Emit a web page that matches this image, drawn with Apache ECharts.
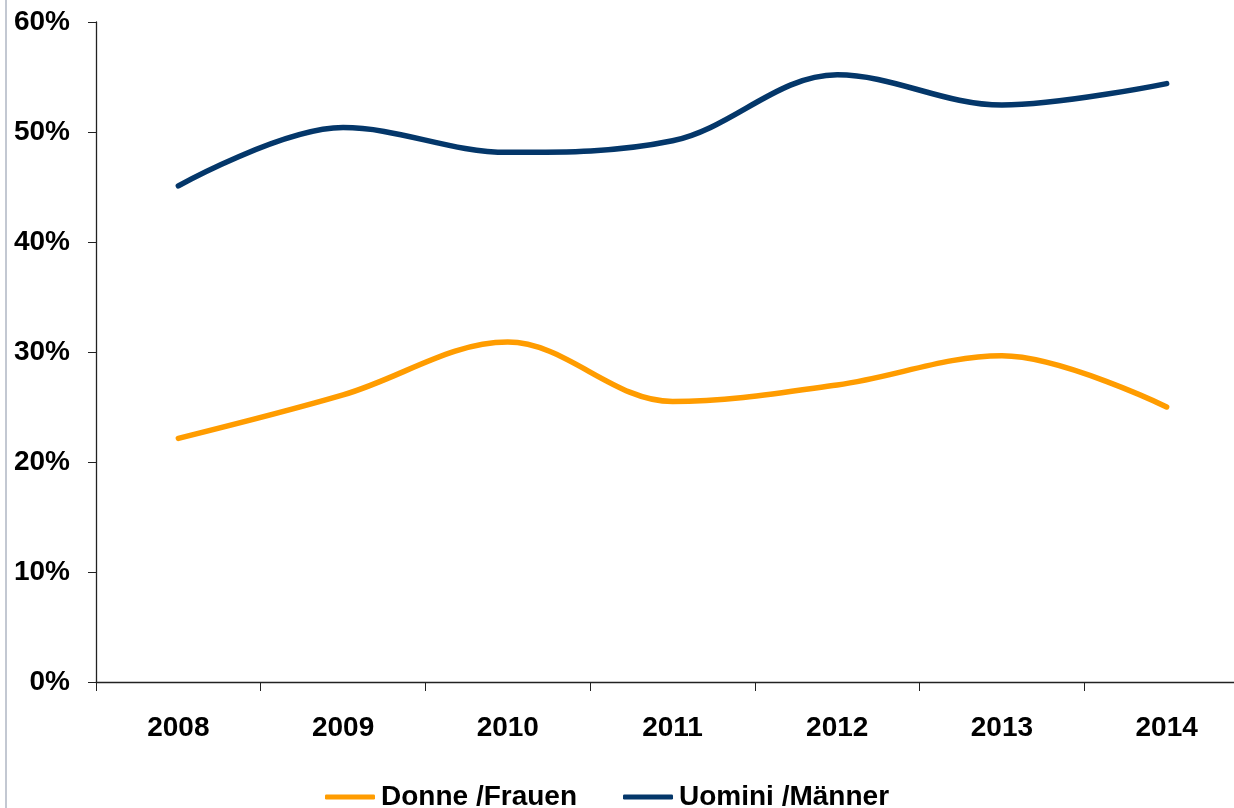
<!DOCTYPE html>
<html>
<head>
<meta charset="utf-8">
<script src="https://cdn.jsdelivr.net/npm/echarts@6/dist/echarts.min.js"></script>
<style>
    html, body { margin: 0; padding: 0; background: #fff; overflow: hidden; }
    #chart { width: 1234px; height: 808px; position: relative; }
    .edge { position: absolute; left: 5px; top: 0; width: 2px; height: 808px; background: #c3c8d2; z-index: 5; }
</style>
</head>
<body>
<div class="edge"></div>
<div id="chart"></div>
<script>
    const years = ['2008', '2009', '2010', '2011', '2012', '2013', '2014'];
    const donne = [22.15, 26.1, 30.9, 25.5, 27.0, 29.65, 25.0];
    const uomini = [45.1, 50.4, 48.15, 49.2, 55.2, 52.45, 54.4];
    const yTicks = [0, 10, 20, 30, 40, 50, 60];

    const orange = '#ff9c00';
    const navy = '#04376a';
    const font = 'Liberation Sans, Arial, sans-serif';

    const chart = echarts.init(document.getElementById('chart'));
    chart.setOption({
        animation: false,
        // the plot runs past the right edge of the picture
        grid: { left: 96, top: 22, height: 660, width: 1153, outerBoundsMode: 'none', containLabel: false },
        xAxis: {
            type: 'category',
            data: years,
            boundaryGap: true,
            axisLine: { lineStyle: { color: '#222', width: 1.3 } },
            axisTick: { show: true, length: 9, lineStyle: { color: '#222' } },
            axisLabel: { color: '#000', fontFamily: font, fontWeight: 'bold', fontSize: 28, margin: 32 }
        },
        yAxis: {
            type: 'value',
            min: yTicks[0],
            max: yTicks[yTicks.length - 1],
            interval: 10,
            axisLine: { show: true, lineStyle: { color: '#222', width: 1.3 } },
            axisTick: { show: true, length: 8, lineStyle: { color: '#222' } },
            splitLine: { show: false },
            axisLabel: {
                color: '#000', fontFamily: font, fontWeight: 'bold', fontSize: 28, margin: 26,
                formatter: '{value}%'
            }
        },
        legend: {
            left: 325,
            top: 783,
            padding: 0,
            icon: 'roundRect',
            itemWidth: 50,
            itemHeight: 5,
            itemGap: 46,
            textStyle: { color: '#000', fontFamily: font, fontWeight: 'bold', fontSize: 28, padding: [0, 0, 0, 1] },
            data: ['Donne /Frauen', 'Uomini /Männer']
        },
        series: [
            {
                name: 'Donne /Frauen',
                type: 'line',
                data: donne,
                smooth: 0.35,
                symbol: 'none',
                lineStyle: { color: orange, width: 5.5, cap: 'round' },
                itemStyle: { color: orange }
            },
            {
                name: 'Uomini /Männer',
                type: 'line',
                data: uomini,
                smooth: 0.35,
                symbol: 'none',
                lineStyle: { color: navy, width: 5.5, cap: 'round' },
                itemStyle: { color: navy }
            }
        ]
    });
</script>
</body>
</html>
